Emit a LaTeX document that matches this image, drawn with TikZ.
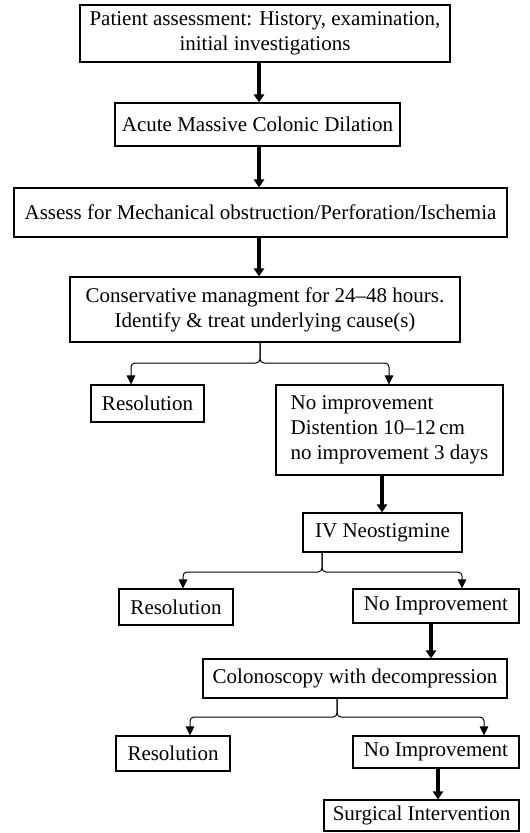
\documentclass[tikz,border=0pt]{standalone}
\usepackage{fontspec}
\setmainfont{Liberation Serif}
\usetikzlibrary{arrows.meta}
\begin{document}
\begin{tikzpicture}[x=1pt,y=-1pt,
  box/.style={draw, line width=1.1pt, inner sep=0pt, align=center,
    font=\fontsize{21}{25}\selectfont},
  bigarrow/.style={line width=3.6pt, -{Triangle[width=10pt,length=8pt]}},
  branch/.style={line width=1pt, rounded corners=4pt, -{Triangle[width=8.5pt,length=9pt]}}]
\useasboundingbox (0,0) rectangle (530,833);

% boxes
\node[box, minimum width=370, minimum height=57] (b1) at (265,33.5)
  {Patient assessment: History, examination,\\ initial investigations};
\node[box, minimum width=285, minimum height=43] (b2) at (257.5,124.5)
  {Acute Massive Colonic Dilation};
\node[box, minimum width=493, minimum height=49] (b3) at (260.5,212.5)
  {Assess for Mechanical obstruction/Perforation/Ischemia};
\node[box, minimum width=390, minimum height=65] (b4) at (265,309.5)
  {Conservative managment for 24--48 hours.\\ Identify \& treat underlying cause(s)};
\node[box, minimum width=113, minimum height=37] (r1) at (147.5,403.5) {Resolution};
\node[box, align=left, minimum width=227, minimum height=90] (n1) at (389.5,430)
  {No improvement\\ Distention 10--12\,cm\\ no improvement 3 days};
\node[box, minimum width=159, minimum height=39] (iv) at (382.5,532.5) {IV Neostigmine};
\node[box, minimum width=114, minimum height=36] (r2) at (176,607) {Resolution};
\node[box, minimum width=166, minimum height=34] (n2) at (436,606) {No Improvement};
\node[box, minimum width=304, minimum height=39] (col) at (355,678.5)
  {Colonoscopy with decompression};
\node[box, minimum width=114, minimum height=35] (r3) at (173,753.5) {Resolution};
\node[box, minimum width=166, minimum height=32] (n3) at (436,752) {No Improvement};
\node[box, minimum width=195, minimum height=31] (surg) at (421.5,815.5)
  {Surgical Intervention};

% x positions of straight arrows
\coordinate (a1) at (259,0);
\coordinate (a4) at (382,0);
\coordinate (a5) at (431,0);
\coordinate (a6) at (438,0);

\draw[bigarrow] (b1.south -| a1) -- (b2.north -| a1);
\draw[bigarrow] (b2.south -| a1) -- (b3.north -| a1);
\draw[bigarrow] (b3.south -| a1) -- (b4.north -| a1);
\draw[bigarrow] (n1.south -| a4) -- (iv.north -| a4);
\draw[bigarrow] (n2.south -| a5) -- (col.north -| a5);
\draw[bigarrow] (n3.south -| a6) -- (surg.north -| a6);

% branches
\coordinate (j1) at (260,363);
\coordinate (l1) at (131,0);
\coordinate (m1) at (389,0);
\draw[branch] (b4.south -| j1) -- (j1) -| (r1.north -| l1);
\draw[branch] (b4.south -| j1) -- (j1) -| (n1.north -| m1);

\coordinate (j2) at (322,572);
\coordinate (l2) at (183,0);
\coordinate (m2) at (462,0);
\draw[branch] (iv.south -| j2) -- (j2) -| (r2.north -| l2);
\draw[branch] (iv.south -| j2) -- (j2) -| (n2.north -| m2);

\coordinate (j3) at (337,717);
\coordinate (l3) at (190,0);
\coordinate (m3) at (484,0);
\draw[branch] (col.south -| j3) -- (j3) -| (r3.north -| l3);
\draw[branch] (col.south -| j3) -- (j3) -| (n3.north -| m3);
\end{tikzpicture}
\end{document}
